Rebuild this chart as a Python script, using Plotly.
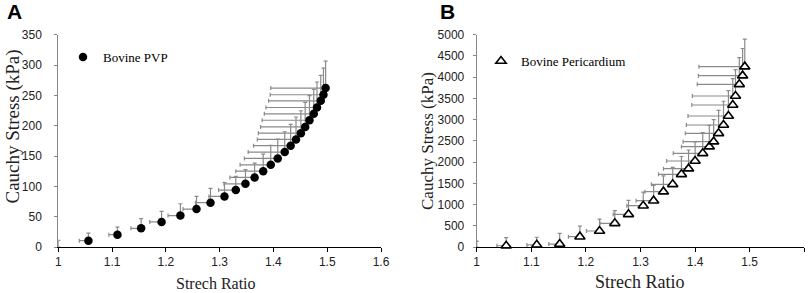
import plotly.graph_objects as go

# ---------------- data ----------------
# Panel A: Bovine PVP
a_stretch = [1.056, 1.110, 1.154, 1.192, 1.227, 1.257, 1.283, 1.309, 1.330, 1.348,
             1.365, 1.381, 1.395, 1.408, 1.421, 1.432, 1.442, 1.451, 1.459, 1.467,
             1.475, 1.481, 1.488, 1.493, 1.497]
a_stress = [10.4, 20.3, 30.8, 41.3, 51.8, 62.5, 73.0, 83.3, 93.8, 104.2,
            114.7, 125.0, 135.5, 146.0, 156.5, 167.0, 177.3, 187.6, 198.0, 209.0,
            219.5, 230.0, 241.0, 251.0, 262.0]
a_err_stretch = [0.017, 0.016, 0.019, 0.022, 0.023, 0.025, 0.028, 0.029, 0.032, 0.040,
                 0.046, 0.051, 0.057, 0.062, 0.068, 0.069, 0.072, 0.079, 0.083, 0.088,
                 0.092, 0.095, 0.097, 0.099, 0.102]
a_err_stress = [12.5, 12.5, 16.0, 17.5, 19.5, 21.0, 23.5, 23.0, 22.5, 23.5,
                23.5, 28.0, 32.0, 32.0, 33.5, 35.0, 37.0, 37.0, 40.5, 40.5,
                40.5, 42.0, 42.0, 44.0, 44.5]

# Panel B: Bovine Pericardium
b_stretch = [1.054, 1.110, 1.152, 1.189, 1.225, 1.253, 1.278, 1.305, 1.324, 1.342,
             1.359, 1.375, 1.388, 1.400, 1.414, 1.426, 1.434, 1.443, 1.452, 1.461,
             1.469, 1.474, 1.481, 1.487, 1.491]
b_stress = [30, 50, 70, 243, 377, 557, 769, 973, 1091, 1303,
            1476, 1711, 1845, 2025, 2206, 2363, 2481, 2677, 2873, 3085,
            3344, 3556, 3831, 4035, 4247]
b_err_stretch = [0.017, 0.018, 0.020, 0.021, 0.024, 0.027, 0.028, 0.030, 0.032, 0.034,
                 0.039, 0.042, 0.046, 0.052, 0.054, 0.051, 0.056, 0.061, 0.068, 0.074,
                 0.075, 0.079, 0.077, 0.081, 0.084]
b_err_stress = [190, 180, 250, 250, 280, 300, 330, 320, 360, 370,
                400, 420, 440, 450, 490, 500, 520, 540, 560, 600,
                620, 620, 630, 640, 650]

# origin point (marker hidden by axis), only its error cap is visible
origin_x = [1.0]
a_origin_y = [0.0]
a_origin_err = [11.0]
b_origin_y = [0.0]
b_origin_err = [140.0]

x_ticks = [1, 1.1, 1.2, 1.3, 1.4, 1.5, 1.6]
x_ticklabels = ["1", "1.1", "1.2", "1.3", "1.4", "1.5", "1.6"]
a_yticks = [0, 50, 100, 150, 200, 250, 300, 350]
b_yticks = [0, 500, 1000, 1500, 2000, 2500, 3000, 3500, 4000, 4500, 5000]

x_title = "Strech Ratio"
y_title = "Cauchy Stress (kPa)"

ERR_COLOR = "#8a8a8a"
SERIF = "Liberation Serif, Times New Roman, serif"
SANS = "Liberation Sans, Arial, sans-serif"

fig = go.Figure()

zeros_a = [0] * len(a_stretch)
zeros_b = [0] * len(b_stretch)

fig.add_trace(go.Scatter(
    x=origin_x, y=a_origin_y, mode="markers", showlegend=False,
    marker=dict(size=1, color="rgba(0,0,0,0)"),
    error_y=dict(type="data", symmetric=False, array=a_origin_err, arrayminus=[0],
                 color=ERR_COLOR, thickness=1.2, width=2),
    xaxis="x", yaxis="y", cliponaxis=False, hoverinfo="skip"))

fig.add_trace(go.Scatter(
    x=a_stretch, y=a_stress, mode="markers", name="Bovine PVP",
    marker=dict(symbol="circle", size=8.5, color="black"),
    error_x=dict(type="data", symmetric=False, array=zeros_a, arrayminus=a_err_stretch,
                 color=ERR_COLOR, thickness=1.2, width=2),
    error_y=dict(type="data", symmetric=False, array=a_err_stress, arrayminus=zeros_a,
                 color=ERR_COLOR, thickness=1.2, width=2),
    xaxis="x", yaxis="y", legend="legend", cliponaxis=False))

fig.add_trace(go.Scatter(
    x=origin_x, y=b_origin_y, mode="markers", showlegend=False,
    marker=dict(size=1, color="rgba(0,0,0,0)"),
    error_y=dict(type="data", symmetric=False, array=b_origin_err, arrayminus=[0],
                 color=ERR_COLOR, thickness=1.2, width=2),
    xaxis="x2", yaxis="y2", cliponaxis=False, hoverinfo="skip"))

fig.add_trace(go.Scatter(
    x=b_stretch, y=b_stress, mode="markers", name="Bovine Pericardium",
    marker=dict(symbol="triangle-up", size=9, color="white",
                line=dict(color="black", width=1.6)),
    error_x=dict(type="data", symmetric=False, array=zeros_b, arrayminus=b_err_stretch,
                 color=ERR_COLOR, thickness=1.2, width=2),
    error_y=dict(type="data", symmetric=False, array=b_err_stress, arrayminus=zeros_b,
                 color=ERR_COLOR, thickness=1.2, width=2),
    xaxis="x2", yaxis="y2", legend="legend2", cliponaxis=False))

W, H = 809, 293


def px_x(v):
    return v / W


def px_y(v):
    return 1 - v / H


ydom = [px_y(247), px_y(34.7)]

xaxis_common = dict(
    range=[1, 1.6], tickvals=x_ticks, ticktext=x_ticklabels,
    showgrid=False, zeroline=False, showline=True, linecolor="black", linewidth=1,
    ticks="outside", ticklen=4, tickcolor="black", tickwidth=1,
    tickfont=dict(family=SANS, size=12, color="#222"),
    automargin=False, fixedrange=True,
)
yaxis_common = dict(
    showgrid=False, zeroline=False, showline=True, linecolor="#888888", linewidth=1,
    ticks="outside", ticklen=3, tickcolor="#888888", tickwidth=1,
    tickfont=dict(family=SANS, size=12, color="#222"),
    automargin=False, fixedrange=True,
)

fig.update_layout(
    width=W, height=H,
    margin=dict(l=0, r=0, t=0, b=0),
    paper_bgcolor="white", plot_bgcolor="white",
    xaxis=dict(domain=[px_x(58.3), px_x(381)], anchor="y", **xaxis_common),
    yaxis=dict(domain=ydom, anchor="x", range=[0, 350], tickvals=a_yticks,
               ticklabelstandoff=10, **yaxis_common),
    xaxis2=dict(domain=[px_x(476.7), px_x(804.3)], anchor="y2", **xaxis_common),
    yaxis2=dict(domain=ydom, anchor="x2", range=[0, 5000], tickvals=b_yticks,
                ticklabelstandoff=6, **yaxis_common),
    legend=dict(x=px_x(63), y=px_y(57), xanchor="left", yanchor="middle",
                bgcolor="rgba(0,0,0,0)", borderwidth=0,
                font=dict(family=SERIF, size=13, color="black"),
                itemwidth=30, tracegroupgap=0),
    legend2=dict(x=px_x(481), y=px_y(61), xanchor="left", yanchor="middle",
                 bgcolor="rgba(0,0,0,0)", borderwidth=0,
                 font=dict(family=SERIF, size=13, color="black"),
                 itemwidth=30, tracegroupgap=0),
    annotations=[
        dict(text="<b>A</b>", x=px_x(14), y=px_y(11), xref="paper", yref="paper",
             showarrow=False, font=dict(family=SANS, size=21, color="black"),
             xanchor="center", yanchor="middle"),
        dict(text="<b>B</b>", x=px_x(447), y=px_y(11), xref="paper", yref="paper",
             showarrow=False, font=dict(family=SANS, size=21, color="black"),
             xanchor="center", yanchor="middle"),
        # axis titles
        dict(text=x_title, x=px_x(216), y=px_y(294), xref="paper", yref="paper",
             showarrow=False, font=dict(family=SERIF, size=16, color="#222"),
             xanchor="center", yanchor="bottom"),
        dict(text=x_title, x=px_x(639), y=px_y(294), xref="paper", yref="paper",
             showarrow=False, font=dict(family=SERIF, size=18, color="#222"),
             xanchor="center", yanchor="bottom"),
        dict(text=y_title, x=px_x(12.5), y=px_y(127), xref="paper", yref="paper",
             showarrow=False, textangle=-90,
             font=dict(family=SERIF, size=19, color="#222"),
             xanchor="center", yanchor="middle"),
        dict(text=y_title, x=px_x(427), y=px_y(141), xref="paper", yref="paper",
             showarrow=False, textangle=-90,
             font=dict(family=SERIF, size=17, color="#222"),
             xanchor="center", yanchor="middle"),
    ],
)

# remove the browser's default 8px page margin so the figure fills the window exactly
fig.write_html("out.html", config={"displayModeBar": False},
               post_script="document.body.style.margin='0';")
